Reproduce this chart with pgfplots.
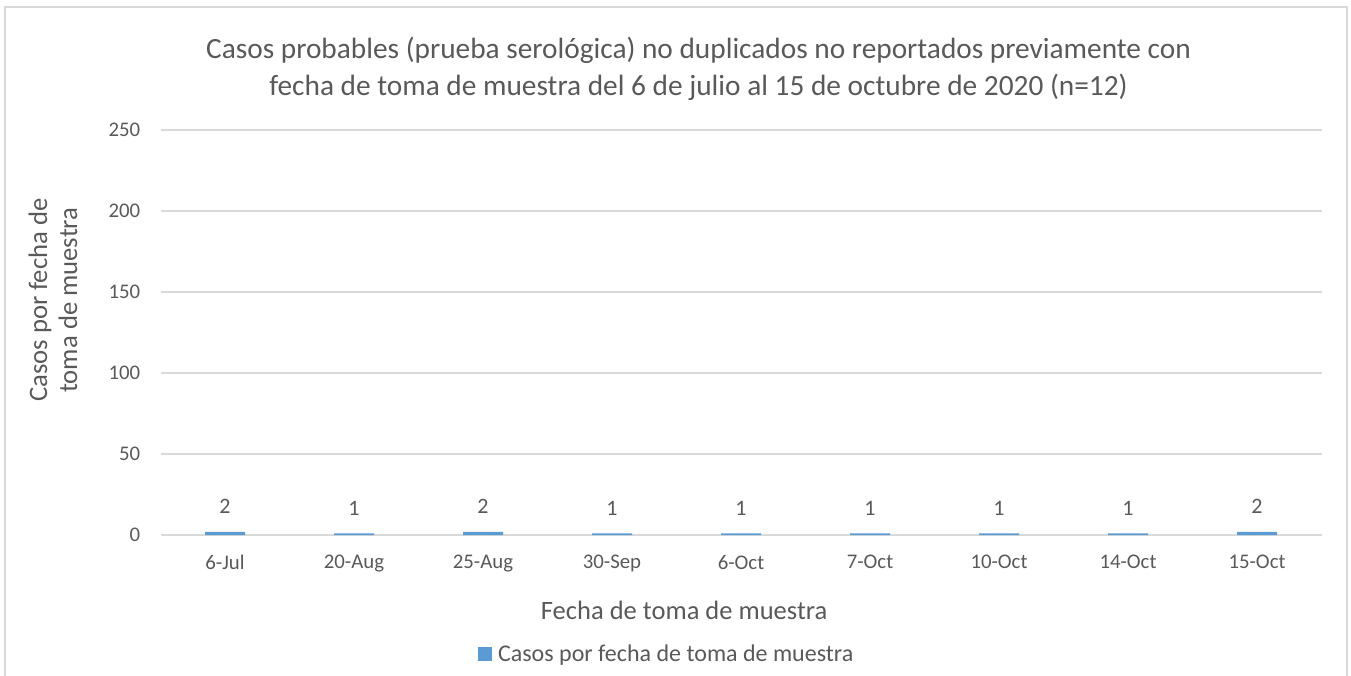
\documentclass[border=0pt]{standalone}
\usepackage{pgfplots}
\pgfplotsset{compat=1.18}
\usepackage{fontspec}
\setmainfont{Carlito}
\definecolor{txt}{HTML}{595959}
\definecolor{grd}{HTML}{D9D9D9}
\definecolor{barc}{HTML}{5B9BD5}
\begin{document}
\begin{tikzpicture}[x=0.75pt,y=-0.75pt]
\path[use as bounding box] (0,0) rectangle (1351,675);
\draw[grd, line width=1.5pt] (5,7) rectangle (1347,700);
\coordinate (ax) at (160.5,535);
\begin{axis}[
  at={(ax)}, anchor=south west, scale only axis,
  width=870.75pt, height=303.75pt,
  xmin=-0.5, xmax=8.5, ymin=0, ymax=250,
  enlargelimits=false,
  ytick={0,50,100,150,200,250},
  xtick={0,1,2,3,4,5,6,7,8},
  xticklabels={6-Jul,20-Aug,25-Aug,30-Sep,6-Oct,7-Oct,10-Oct,14-Oct,15-Oct},
  /pgf/number format/assume math mode=true,
  axis line style={draw=none},
  major tick length=0pt,
  ymajorgrids, major grid style={color=grd, line width=1.1pt},
  ticklabel style={font=\fontsize{15.6}{18}\selectfont, text=txt},
  xticklabel style={anchor=north, inner sep=0pt, yshift=-15pt},
  yticklabel style={anchor=east, inner sep=0pt, xshift=-15pt},
  title={Casos probables (prueba serológica) no duplicados no reportados previamente con\\fecha de toma de muestra del 6 de julio al 15 de octubre de 2020 (n=12)},
  title style={at={(axis description cs:0.4634,1.1321)}, anchor=center, align=center,
    font=\fontsize{22}{27.5}\selectfont, text=txt},
  xlabel={Fecha de toma de muestra},
  xlabel style={at={(axis description cs:0.451,-0.185)}, anchor=center,
    font=\fontsize{19.9}{24}\selectfont, text=txt},
  ylabel={Casos por fecha de\\toma de muestra},
  ylabel style={at={(axis description cs:-0.0926,0.570)}, anchor=center, rotate=0, align=center,
    xshift=3pt, font=\fontsize{20}{22.5}\selectfont, text=txt},
  ybar, bar width=30pt,
  nodes near coords,
  every node near coord/.append style={anchor=base, inner sep=0pt, yshift=13.5pt,
    font=\fontsize{16.5}{19}\selectfont, text=txt},
  legend style={at={(axis description cs:0.2735,-0.2938)}, anchor=west, draw=none, fill=none,
    inner sep=0pt, outer sep=0pt, column sep=4.5pt,
    nodes={inner sep=0pt, font=\fontsize{18}{21}\selectfont, text=txt}},
  legend image code/.code={\fill[barc] (0pt,-5.25pt) rectangle (10.5pt,5.25pt);},
]
\addplot[fill=barc, draw=none] coordinates {(0,2) (1,1) (2,2) (3,1) (4,1) (5,1) (6,1) (7,1) (8,2)};
\addlegendentry{Casos por fecha de toma de muestra}
\end{axis}
\end{tikzpicture}
\end{document}
